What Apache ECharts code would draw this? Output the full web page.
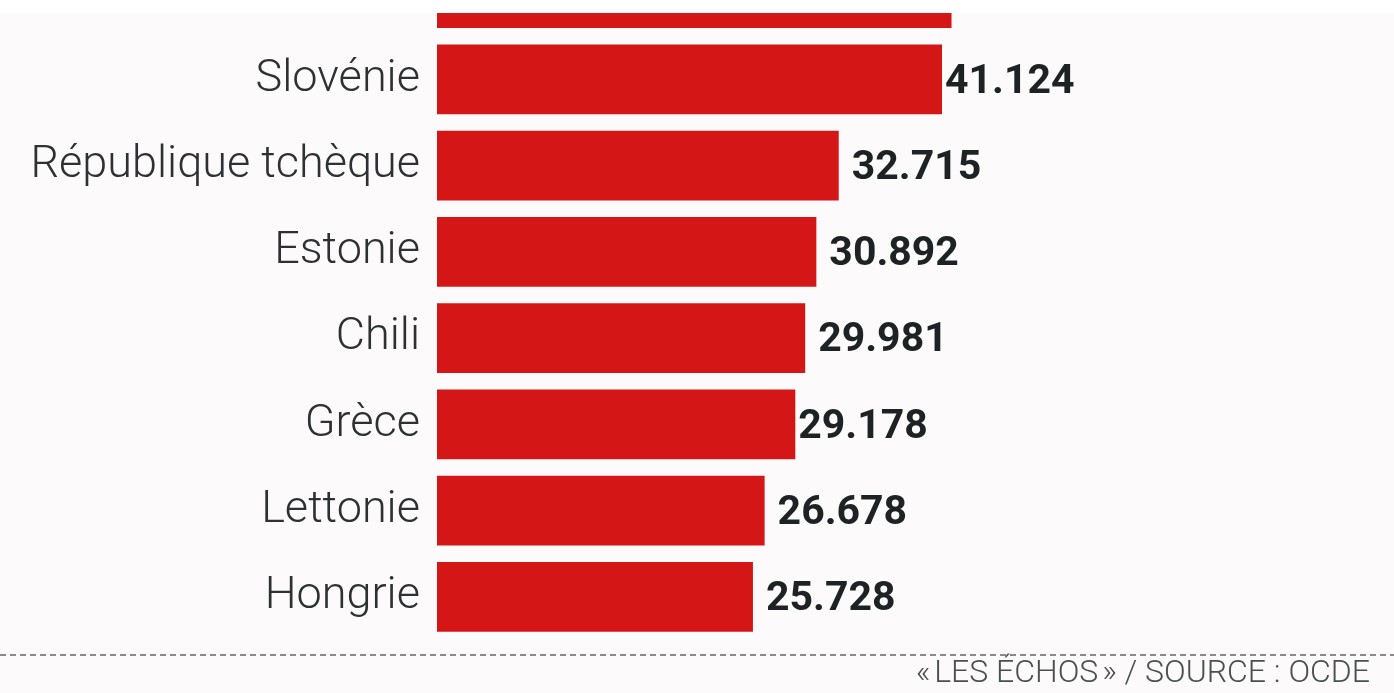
<!DOCTYPE html>
<html><head><meta charset="utf-8">
<script src="https://cdn.jsdelivr.net/npm/echarts@6/dist/echarts.min.js"></script>
<style>html,body{margin:0;padding:0;background:#fcfafa;}#c{width:1394px;height:693px;}</style>
</head><body><div id="c"></div>
<script>
const categories = ['', 'Slovénie', 'République tchèque', 'Estonie', 'Chili', 'Grèce', 'Lettonie', 'Hongrie'];
const values = [41.9, 41.124, 32.715, 30.892, 29.981, 29.178, 26.678, 25.728];
const valueLabels = ['41.900', '41.124', '32.715', '30.892', '29.981', '29.178', '26.678', '25.728'];
const sourceText = '«\u202FLES ÉCHOS\u202F» / SOURCE : OCDE';

const chart = echarts.init(document.getElementById('c'));
chart.setOption({
  backgroundColor: '#fcfafa',
  animation: false,
  grid: { left: 437, width: 614, top: -50, height: 690, outerBoundsMode: 'none', containLabel: false },
  xAxis: { type: 'value', min: 0, max: 50, show: false },
  yAxis: {
    type: 'category', inverse: true, data: categories,
    axisLine: { show: false }, axisTick: { show: false },
    axisLabel: { margin: 17, fontFamily: 'Roboto', fontWeight: 300, fontSize: 45, color: '#2e3133' }
  },
  series: [{
    type: 'bar', barCategoryGap: '19%',
    itemStyle: { color: '#d51616' },
    data: values.map((v, i) => ({
      value: v,
      label: {
        distance: (i === 1 || i === 5) ? 3 : 13,
        offset: i === 0 ? [0, 10] : [0, 3],
        color: i === 0 ? '#ece9e9' : '#1d2225'
      }
    })),
    label: {
      show: true, position: 'right',
      fontFamily: 'Roboto', fontWeight: 'bold', fontSize: 41,
      formatter: p => valueLabels[p.dataIndex]
    }
  }],
  graphic: [
    { type: 'rect', left: 0, top: 0, z: 100, shape: { width: 1394, height: 13 }, style: { fill: '#ffffff' } },
    { type: 'line', z: 100, shape: { x1: 0, y1: 655, x2: 1394, y2: 655 },
      style: { stroke: '#8a8a8a', lineWidth: 2, lineDash: [6, 4] } },
    { type: 'text', z: 100, right: 24, top: 658,
      style: { text: sourceText, font: '300 32px Roboto', fill: '#4a4f52' } }
  ]
});
</script></body></html>
